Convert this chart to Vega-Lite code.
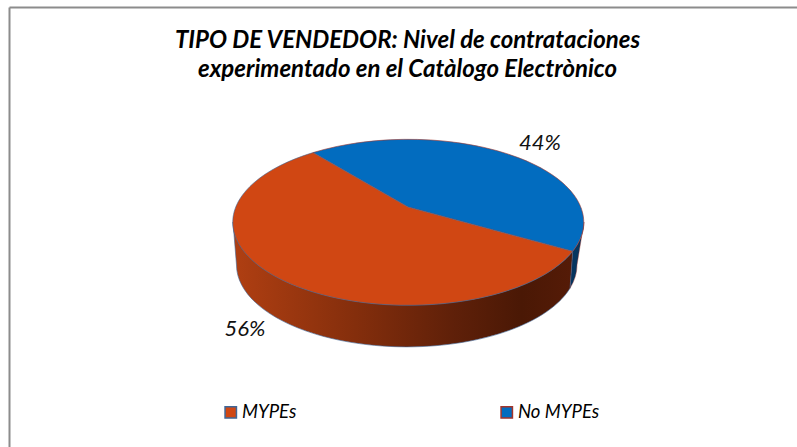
{"$schema":"https://vega.github.io/schema/vega-lite/v6.json","width":788,"height":440,"padding":{"left":9,"top":7,"right":0,"bottom":0},"autosize":"none","background":"white","view":{"stroke":null},"title":{"text":["TIPO DE VENDEDOR: Nivel de contrataciones","experimentado en el Catàlogo Electrònico"],"font":"Lato","fontSize":24,"fontWeight":"bold","fontStyle":"italic","color":"black","anchor":"middle","dx":4.5,"dy":45,"offset":-30,"lineHeight":29},"data":{"values":[{"tipo":"MYPEs","valor":0.56},{"tipo":"No MYPEs","valor":0.44}]},"encoding":{"x":{"datum":0.5,"type":"quantitative","scale":{"domain":[0,1]},"axis":{"orient":"top","ticks":false,"labels":false,"title":null,"grid":false,"domainColor":"#8c8c8c","domainWidth":2}},"y":{"datum":0.5,"type":"quantitative","scale":{"domain":[0,1]},"axis":{"orient":"left","ticks":false,"labels":false,"title":null,"grid":false,"domainColor":"#8c8c8c","domainWidth":2}}},"layer":[{"transform":[{"filter":"datum.tipo=='No MYPEs'"}],"mark":{"type":"point","filled":true,"opacity":1,"size":4,"fill":"#05355F","stroke":"#A3352B","strokeWidth":0.4,"shape":"M169.7 24.3 A175.5 83 0 0 0 181 -5 L174 38 A170.3 82 0 0 1 167 61.3 Z"}},{"transform":[{"filter":"datum.tipo=='MYPEs'"}],"mark":{"type":"point","filled":true,"opacity":1,"size":4,"stroke":"#3F6797","strokeWidth":0.6,"fill":{"gradient":"linear","x1":0,"y1":0,"x2":1,"y2":0,"stops":[{"offset":0,"color":"#B03F12"},{"offset":0.36,"color":"#842E0C"},{"offset":0.65,"color":"#5F2009"},{"offset":0.85,"color":"#4A1805"},{"offset":1,"color":"#551B07"}]},"shape":"M169.7 24.3 L167 61.3 A170.3 82 0 0 1 -166.5 38 L-170 -5 A175.5 83 0 0 0 169.7 24.3 Z"}},{"transform":[{"filter":"datum.tipo=='No MYPEs'"}],"mark":{"type":"point","filled":true,"opacity":1,"size":4,"strokeWidth":0.6,"shape":"M5 -20 L-90 -74.4 A175.5 83 0 0 1 169.7 24.3 Z"},"encoding":{"color":{"field":"tipo","type":"nominal","scale":{"domain":["MYPEs","No MYPEs"],"range":["#D04713","#026CBF"]},"legend":{"title":null,"orient":"none","legendX":212.5,"legendY":396,"direction":"horizontal","columns":2,"columnPadding":201,"symbolType":"square","symbolSize":130,"symbolStrokeWidth":1.5,"labelFont":"Lato","labelFontStyle":"italic","labelFontSize":18.5,"labelColor":"black","labelOffset":2,"padding":0}},"stroke":{"field":"tipo","type":"nominal","scale":{"domain":["MYPEs","No MYPEs"],"range":["#3F6797","#A3352B"]},"legend":{"title":null,"orient":"none","legendX":212.5,"legendY":396,"direction":"horizontal","columns":2,"columnPadding":201,"symbolType":"square","symbolSize":130,"symbolStrokeWidth":1.5,"labelFont":"Lato","labelFontStyle":"italic","labelFontSize":18.5,"labelColor":"black","labelOffset":2,"padding":0}}}},{"transform":[{"filter":"datum.tipo=='MYPEs'"}],"mark":{"type":"point","filled":true,"opacity":1,"size":4,"strokeWidth":0.6,"shape":"M5 -20 L169.7 24.3 A175.5 83 0 1 1 -90 -74.4 Z"},"encoding":{"color":{"field":"tipo","type":"nominal"},"stroke":{"field":"tipo","type":"nominal"}}},{"transform":[{"filter":"datum.tipo=='No MYPEs'"}],"mark":{"type":"text","font":"Lato","fontStyle":"italic","fontSize":22,"color":"#111111","dx":137,"dy":-84},"encoding":{"text":{"field":"valor","type":"quantitative","format":".0%"}}},{"transform":[{"filter":"datum.tipo=='MYPEs'"}],"mark":{"type":"text","font":"Lato","fontStyle":"italic","fontSize":22,"color":"#111111","dx":-158,"dy":102},"encoding":{"text":{"field":"valor","type":"quantitative","format":".0%"}}}]}
